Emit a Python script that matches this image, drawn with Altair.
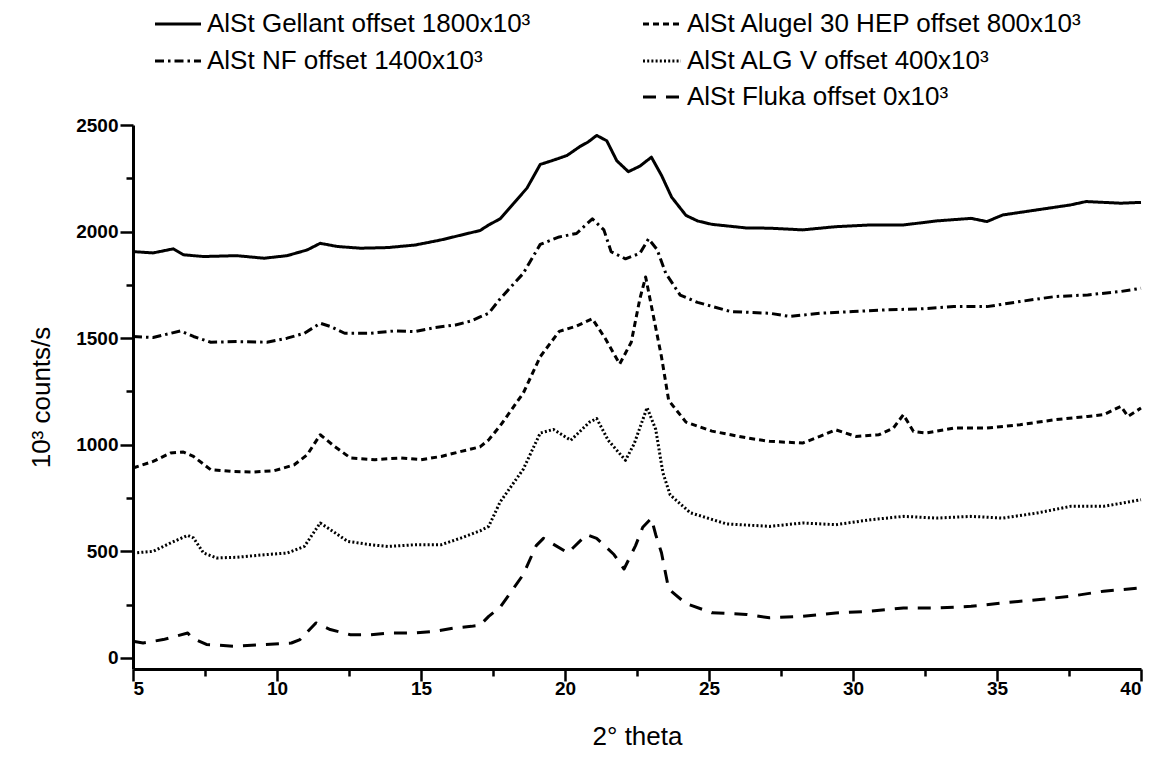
import altair as alt
import pandas as pd

# ---- data (2-theta in degrees, 10^3 counts/s incl. offset) ----
gellant_x = [5.0, 5.7, 6.4, 6.75, 7.45, 8.6, 9.55, 10.35, 11.05, 11.5, 12.1, 12.9, 13.85, 14.8, 15.7, 16.65, 17.05, 17.35, 17.75, 18.2, 18.68, 19.14, 19.6, 20.07, 20.53, 20.8, 21.1, 21.45, 21.8, 22.2, 22.6, 23.0, 23.35, 23.7, 24.2, 24.6, 25.1, 26.3, 27.1, 28.25, 29.4, 30.6, 31.75, 32.9, 34.1, 34.65, 35.2, 36.4, 37.55, 38.1, 39.3, 40.0]
gellant_y = [1906, 1900, 1919, 1891, 1883, 1887, 1875, 1887, 1914, 1945, 1930, 1922, 1925, 1937, 1961, 1992, 2005, 2031, 2060, 2130, 2204, 2315, 2335, 2357, 2400, 2420, 2451, 2426, 2332, 2281, 2307, 2349, 2264, 2162, 2076, 2050, 2034, 2017, 2016, 2008, 2023, 2031, 2031, 2050, 2062, 2047, 2078, 2102, 2125, 2141, 2133, 2137]

nf_x = [5.0, 5.7, 6.65, 7.1, 7.7, 8.6, 9.65, 10.35, 10.95, 11.5, 11.85, 12.35, 13.25, 14.1, 14.8, 15.5, 16.2, 16.75, 17.05, 17.35, 17.75, 18.55, 19.14, 19.8, 20.4, 20.95, 21.35, 21.6, 22.1, 22.6, 22.9, 23.2, 23.5, 24.0, 24.6, 25.75, 27.1, 27.8, 28.85, 30.0, 31.15, 32.3, 33.5, 34.65, 35.8, 37.0, 38.15, 39.3, 40.0]
nf_y = [1508, 1503, 1534, 1508, 1481, 1484, 1481, 1500, 1523, 1570, 1555, 1523, 1523, 1534, 1531, 1550, 1562, 1581, 1600, 1617, 1685, 1804, 1940, 1975, 1991, 2060, 2008, 1906, 1872, 1898, 1966, 1915, 1804, 1702, 1668, 1625, 1617, 1602, 1617, 1625, 1633, 1637, 1648, 1648, 1672, 1695, 1703, 1719, 1734]

alugel_x = [5.0, 5.7, 6.3, 6.75, 7.1, 7.7, 8.4, 9.2, 9.9, 10.6, 11.05, 11.5, 12.0, 12.55, 13.4, 14.3, 15.0, 15.7, 16.4, 17.05, 17.35, 17.75, 18.55, 19.14, 19.8, 20.4, 20.95, 21.4, 21.9, 22.3, 22.6, 22.8, 22.95, 23.35, 23.6, 24.2, 25.1, 26.4, 27.1, 28.25, 28.85, 29.4, 30.1, 30.9, 31.4, 31.75, 32.1, 32.55, 33.5, 34.65, 35.8, 37.0, 38.15, 38.7, 39.3, 39.55, 40.0]
alugel_y = [891, 922, 961, 966, 945, 883, 875, 872, 878, 906, 953, 1047, 992, 938, 930, 938, 930, 945, 969, 990, 1023, 1089, 1242, 1413, 1532, 1557, 1591, 1498, 1379, 1481, 1685, 1787, 1685, 1413, 1208, 1106, 1064, 1030, 1016, 1008, 1039, 1070, 1039, 1047, 1078, 1141, 1062, 1055, 1078, 1078, 1094, 1117, 1133, 1141, 1180, 1133, 1172]

algv_x = [5.0, 5.7, 6.3, 6.9, 7.1, 7.45, 7.9, 8.6, 9.55, 10.35, 10.95, 11.5, 11.85, 12.45, 13.25, 13.85, 14.8, 15.7, 16.4, 17.05, 17.35, 17.75, 18.55, 19.14, 19.6, 20.2, 20.85, 21.1, 21.5, 22.1, 22.4, 22.85, 23.15, 23.4, 23.65, 24.35, 25.6, 27.1, 28.25, 29.4, 30.6, 31.75, 32.9, 34.1, 35.2, 36.4, 37.55, 38.7, 40.0]
algv_y = [492, 500, 539, 575, 563, 492, 469, 472, 484, 492, 523, 633, 602, 547, 531, 523, 531, 531, 563, 596, 617, 732, 885, 1055, 1072, 1021, 1106, 1123, 1021, 927, 1004, 1174, 1072, 868, 765, 681, 629, 617, 633, 625, 648, 664, 656, 664, 656, 680, 711, 711, 742]

fluka_x = [5.0, 5.35, 6.05, 6.9, 7.05, 7.55, 8.5, 9.55, 10.5, 10.8, 11.35, 11.85, 12.55, 13.25, 13.95, 14.8, 15.5, 16.2, 16.75, 17.05, 17.35, 17.75, 18.55, 19.0, 19.25, 20.1, 20.75, 21.1, 21.7, 22.05, 22.45, 22.7, 23.0, 23.15, 23.35, 23.6, 24.2, 25.1, 26.3, 27.1, 28.25, 29.4, 30.6, 31.75, 32.9, 34.1, 35.2, 36.4, 37.55, 38.7, 40.0]
fluka_y = [78, 70, 86, 117, 94, 63, 55, 63, 70, 86, 164, 133, 109, 109, 117, 117, 125, 141, 148, 153, 195, 238, 391, 527, 561, 493, 578, 561, 485, 417, 527, 613, 655, 578, 493, 323, 255, 212, 204, 188, 195, 211, 219, 234, 234, 242, 258, 273, 289, 313, 328]

series_names = ["Gellant", "NF", "Alugel", "ALGV", "Fluka"]
legend_labels = [
    "AlSt Gellant offset 1800x10³",
    "AlSt NF offset 1400x10³",
    "AlSt Alugel 30 HEP offset 800x10³",
    "AlSt ALG V offset 400x10³",
    "AlSt Fluka offset 0x10³",
]
x_ticks = [5, 7.5, 10, 12.5, 15, 17.5, 20, 22.5, 25, 27.5, 30, 32.5, 35, 37.5, 40]
y_ticks = [0, 250, 500, 750, 1000, 1250, 1500, 1750, 2000, 2250, 2500]

# ---- styling ----
dash_range = [[1, 0], [9, 4, 2.5, 4], [6, 4], [2, 2.2], [13, 10]]
FONT = "Liberation Sans"
W, H = 1008, 544

frames = []
for name, xs, ys in zip(series_names,
                        [gellant_x, nf_x, alugel_x, algv_x, fluka_x],
                        [gellant_y, nf_y, alugel_y, algv_y, fluka_y]):
    frames.append(pd.DataFrame({"theta": xs, "counts": ys, "series": name}))
df = pd.concat(frames, ignore_index=True)

dash_scale = alt.Scale(domain=series_names, range=dash_range)

x_axis = alt.Axis(
    values=x_ticks,
    format="d",
    labelExpr="datum.value % 5 === 0 ? datum.label : ''",
    tickSize={"condition": {"test": "datum.value % 5 !== 0", "value": 7}, "value": 12},
    labelPadding=-2,
    title="2° theta",
    titleY=67,
    titleBaseline="middle",
)
y_axis = alt.Axis(
    values=y_ticks,
    format="d",
    labelExpr="datum.value % 500 === 0 ? datum.label : ''",
    tickSize={"condition": {"test": "datum.value % 500 !== 0", "value": 7}, "value": 13},
    labelPadding=2,
    title="10³ counts/s",
    titleX=-92,
    titleY=272,
    titleAngle=270,
    titleAlign="center",
    titleBaseline="middle",
)

lines = alt.Chart(df).mark_line(color="black", strokeWidth=3, strokeJoin="round").encode(
    x=alt.X("theta:Q", scale=alt.Scale(domain=[5, 40], nice=False, zero=False), axis=x_axis),
    y=alt.Y("counts:Q", scale=alt.Scale(domain=[-52, 2500], nice=False, zero=False), axis=y_axis),
    strokeDash=alt.StrokeDash("series:N", scale=dash_scale, legend=None),
    detail="series:N",
)

# ---- hand-built two-column legend above the plot ----
leg_col = [0, 0, 1, 1, 1]
leg_row = [0, 1, 0, 1, 2]
col_sym_x = [22, 510]
sym_len = [46, 38]
row_y = [-101, -64, -28]
leg = pd.DataFrame({
    "series": series_names,
    "label": legend_labels,
    "x0": [col_sym_x[c] for c in leg_col],
    "x1": [col_sym_x[c] + sym_len[c] for c in leg_col],
    "tx": [col_sym_x[c] + sym_len[c] + 6 for c in leg_col],
    "ly": [row_y[r] for r in leg_row],
})

leg_rules = alt.Chart(leg).mark_rule(color="black", strokeWidth=3).encode(
    x=alt.X("x0:Q", scale=None),
    x2="x1:Q",
    y=alt.Y("ly:Q", scale=None),
    strokeDash=alt.StrokeDash("series:N", scale=dash_scale, legend=None),
)
leg_text = alt.Chart(leg).mark_text(
    align="left", baseline="middle", font=FONT, fontSize=26, color="black"
).encode(
    x=alt.X("tx:Q", scale=None),
    y=alt.Y("ly:Q", scale=None),
    text="label:N",
)

chart = alt.layer(lines, leg_rules, leg_text).properties(
    width=W, height=H,
    autosize=alt.AutoSizeParams(type="none"),
    padding={"left": 133, "top": 125, "right": 16, "bottom": 89},
).configure_view(stroke=None).configure_axis(
    grid=False,
    domainColor="black",
    domainWidth=3,
    tickColor="black",
    tickWidth=2.5,
    labelFont=FONT,
    labelFontSize=19,
    labelFontWeight="bold",
    labelColor="black",
    titleFont=FONT,
    titleFontSize=26,
    titleFontWeight="normal",
    titleColor="black",
)

chart.save("out.html", embed_options={"renderer": "svg", "actions": False})
